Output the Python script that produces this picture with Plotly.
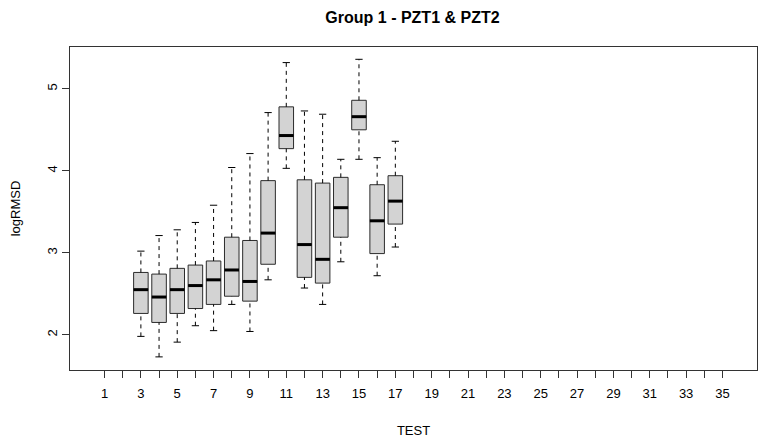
import plotly.graph_objects as go

# ---- data ----
tests = [3, 4, 5, 6, 7, 8, 9, 10, 11, 12, 13, 14, 15, 16, 17]
lower_whisker = [1.98, 1.73, 1.91, 2.11, 2.05, 2.37, 2.04, 2.67, 4.03, 2.57, 2.37, 2.89, 4.14, 2.72, 3.07]
q1 = [2.26, 2.15, 2.26, 2.32, 2.37, 2.47, 2.41, 2.86, 4.27, 2.70, 2.63, 3.19, 4.50, 2.99, 3.35]
median = [2.55, 2.46, 2.55, 2.60, 2.67, 2.79, 2.65, 3.24, 4.43, 3.10, 2.92, 3.55, 4.66, 3.39, 3.63]
q3 = [2.76, 2.74, 2.81, 2.85, 2.90, 3.19, 3.15, 3.88, 4.78, 3.89, 3.85, 3.92, 4.86, 3.83, 3.94]
upper_whisker = [3.02, 3.21, 3.28, 3.37, 3.58, 4.04, 4.21, 4.71, 5.32, 4.73, 4.69, 4.14, 5.36, 4.16, 4.36]
all_positions = list(range(1, 36))
tick_labels = [str(i) if i % 2 == 1 else "" for i in all_positions]
y_ticks = [2, 3, 4, 5]

BOXW = 0.8
CAPW = 0.4
FONT = "Liberation Sans, Arial, sans-serif"

fig = go.Figure()

# boxes (no whiskers: fences at the hinges)
fig.add_trace(go.Box(
    x=tests, q1=q1, median=median, q3=q3,
    lowerfence=q1, upperfence=q3,
    width=BOXW, fillcolor="#D3D3D3",
    line=dict(color="#2b2b2b", width=1),
    boxpoints=False, whiskerwidth=0, showlegend=False, hoverinfo="skip",
))

# dashed whiskers
wx, wy = [], []
for x, lo, a, b, hi in zip(tests, lower_whisker, q1, q3, upper_whisker):
    wx += [x, x, None, x, x, None]
    wy += [b, hi, None, lo, a, None]
fig.add_trace(go.Scatter(x=wx, y=wy, mode="lines",
                         line=dict(color="black", width=1, dash="4px,4px"),
                         showlegend=False, hoverinfo="skip"))

# staples
cx, cy = [], []
for x, lo, hi in zip(tests, lower_whisker, upper_whisker):
    cx += [x - CAPW / 2, x + CAPW / 2, None, x - CAPW / 2, x + CAPW / 2, None]
    cy += [hi, hi, None, lo, lo, None]
fig.add_trace(go.Scatter(x=cx, y=cy, mode="lines",
                         line=dict(color="black", width=1),
                         showlegend=False, hoverinfo="skip"))

# thick medians
mx, my = [], []
for x, m in zip(tests, median):
    mx += [x - BOXW / 2, x + BOXW / 2, None]
    my += [m, m, None]
fig.add_trace(go.Scatter(x=mx, y=my, mode="lines",
                         line=dict(color="black", width=3),
                         showlegend=False, hoverinfo="skip"))

fig.update_layout(
    width=766, height=439,
    margin=dict(l=70, r=9, t=47, b=69, autoexpand=False),
    paper_bgcolor="white", plot_bgcolor="white",
    font=dict(family=FONT, size=13, color="black"),
    title=dict(text="<b>Group 1 - PZT1 & PZT2</b>", x=0.5385, xanchor="center",
               y=0.961, yanchor="middle", font=dict(size=16, family=FONT, color="black")),
    showlegend=False,
)
fig.update_xaxes(
    range=[-0.9, 36.9], tickmode="array", tickvals=all_positions, ticktext=tick_labels,
    ticks="outside", ticklen=7, tickcolor="#333", tickfont=dict(size=13), ticklabelstandoff=4,
    showgrid=False, zeroline=False, showline=True, linecolor="#333", linewidth=1, mirror=True,
    title=dict(text="TEST", font=dict(size=13), standoff=26),
)
fig.update_yaxes(
    range=[1.57, 5.51], tickmode="array", tickvals=y_ticks, ticktext=[str(v) for v in y_ticks],
    ticks="outside", ticklen=7, tickcolor="#333", tickangle=-90, tickfont=dict(size=13),
    showgrid=False, zeroline=False, showline=True, linecolor="#333", linewidth=1, mirror=True,
    title=dict(text="logRMSD", font=dict(size=13), standoff=21),
)

fig.write_html("out.html", config={"displayModeBar": False},
               post_script="document.body.style.margin='0';document.body.style.overflow='hidden';")
